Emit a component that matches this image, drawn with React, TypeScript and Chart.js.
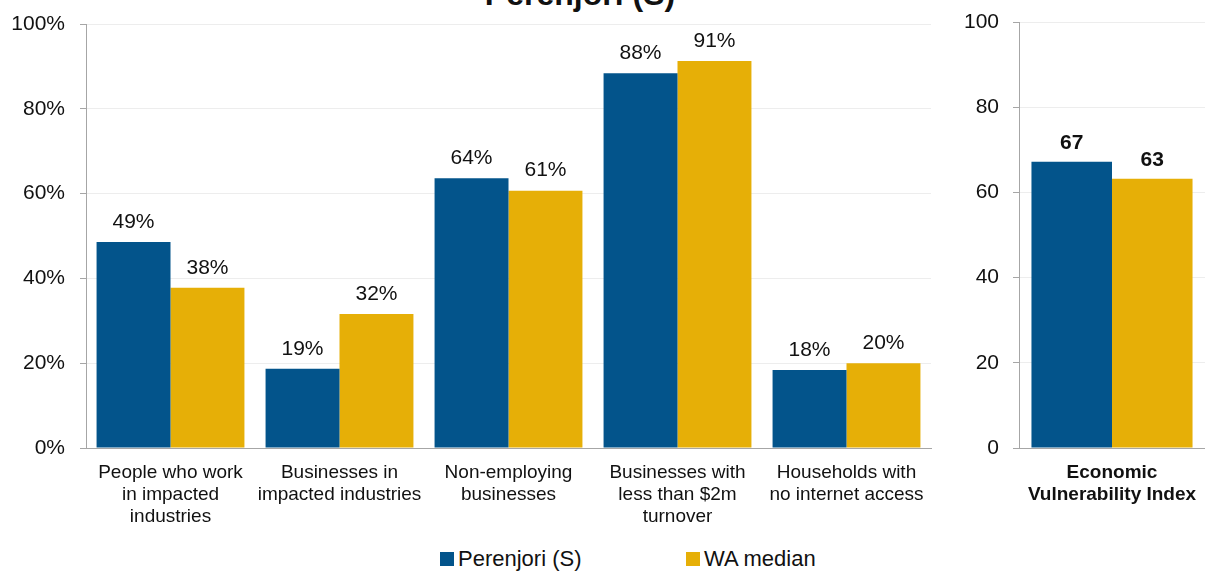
import React, { useEffect, useRef } from "react";
import { Chart, registerables } from "chart.js";

Chart.register(...registerables);

const TITLE = "Perenjori (S)";
const SERIES_NAMES = ["Perenjori (S)", "WA median"];
const COLORS = ["#03548B", "#E6AF07"];

const CATEGORIES: string[][] = [
  ["People who work", "in impacted", "industries"],
  ["Businesses in", "impacted industries"],
  ["Non-employing", "businesses"],
  ["Businesses with", "less than $2m", "turnover"],
  ["Households with", "no internet access"],
];
const LOCAL_VALUES = [48.6, 18.7, 63.6, 88.4, 18.4];
const WA_VALUES = [37.8, 31.6, 60.7, 91.3, 20.0];
const PCT_TICKS = [0, 20, 40, 60, 80, 100];

const INDEX_CATEGORIES: string[][] = [["Economic", "Vulnerability Index"]];
const INDEX_LOCAL = [67.2];
const INDEX_WA = [63.2];

const FONT = "'Liberation Sans', Arial, sans-serif";

const labelPlugin = (fmt: (v: number) => string, bold: boolean, offset: number) => ({
  id: "valueLabels",
  afterDatasetsDraw(chart: any) {
    const ctx = chart.ctx;
    ctx.save();
    ctx.font = `${bold ? "bold " : ""}21px ${FONT}`;
    ctx.fillStyle = "#111";
    ctx.textAlign = "center";
    ctx.textBaseline = "middle";
    chart.data.datasets.forEach((ds: any, i: number) => {
      const meta = chart.getDatasetMeta(i);
      meta.data.forEach((bar: any, j: number) => {
        ctx.fillText(fmt(ds.data[j]), bar.x, bar.y - offset);
      });
    });
    ctx.restore();
  },
});

function makeOptions(opts: {
  yWidth: number;
  padTop: number;
  padRight: number;
  fmt: (v: number) => string;
  xBold: boolean;
  yPad: number;
}) {
  return {
    responsive: false,
    animation: false,
    layout: { padding: { top: opts.padTop, right: opts.padRight, left: 0, bottom: 0 } },
    plugins: { legend: { display: false }, tooltip: { enabled: false }, title: { display: false } },
    scales: {
      x: {
        grid: {
          display: true,
          drawOnChartArea: false,
          drawTicks: true,
          tickLength: 14,
          color: "rgba(0,0,0,0)",
          tickColor: "rgba(0,0,0,0)",
        },
        border: { display: true, color: "#a6a6a6", width: 1 },
        ticks: {
          color: "#111",
          padding: 0,
          maxRotation: 0,
          autoSkip: false,
          font: { family: FONT, size: 19, weight: opts.xBold ? "bold" : "normal", lineHeight: 1.16 },
        },
        afterFit: (s: any) => {
          s.height = 92;
        },
      },
      y: {
        min: 0,
        max: 100,
        afterBuildTicks: (s: any) => {
          s.ticks = PCT_TICKS.map((v) => ({ value: v }));
        },
        grid: {
          color: (c: any) => (c.tick && c.tick.value === 0 ? "rgba(0,0,0,0)" : "#ededed"),
          tickColor: "#a6a6a6",
          tickLength: 6,
          drawTicks: true,
        },
        border: { display: true, color: "#a6a6a6", width: 1 },
        ticks: {
          color: "#111",
          padding: opts.yPad,
          font: { family: FONT, size: 21, lineHeight: 0.5 },
          callback: (v: any) => opts.fmt(Number(v)),
        },
        afterFit: (s: any) => {
          s.width = opts.yWidth;
        },
      },
    },
  } as any;
}

export default function App() {
  const leftRef = useRef<HTMLCanvasElement>(null);
  const rightRef = useRef<HTMLCanvasElement>(null);

  useEffect(() => {
    const pct = (v: number) => `${Math.round(v)}%`;
    const num = (v: number) => `${Math.round(v)}`;
    const barStyle = (i: number, catPct: number) => ({
      label: SERIES_NAMES[i],
      backgroundColor: COLORS[i],
      borderWidth: 0,
      categoryPercentage: catPct,
      barPercentage: 1,
    });
    const left = new Chart(leftRef.current!, {
      type: "bar",
      data: {
        labels: CATEGORIES as any,
        datasets: [
          { ...barStyle(0, 0.875), data: LOCAL_VALUES },
          { ...barStyle(1, 0.875), data: WA_VALUES },
        ],
      },
      options: makeOptions({ yWidth: 86, padTop: 24, padRight: 4, fmt: pct, xBold: false, yPad: 15 }),
      plugins: [labelPlugin(pct, false, 20)],
    });
    const right = new Chart(rightRef.current!, {
      type: "bar",
      data: {
        labels: INDEX_CATEGORIES as any,
        datasets: [
          { ...barStyle(0, 0.866), data: INDEX_LOCAL },
          { ...barStyle(1, 0.866), data: INDEX_WA },
        ],
      },
      options: makeOptions({ yWidth: 84, padTop: 22, padRight: 0, fmt: num, xBold: true, yPad: 14 }),
      plugins: [labelPlugin(num, true, 19)],
    });
    return () => {
      left.destroy();
      right.destroy();
    };
  }, []);

  const legendItem = (i: number, x: number) => (
    <div
      style={{
        position: "absolute",
        left: x,
        top: 547,
        height: 24,
        display: "flex",
        alignItems: "center",
        font: `22px ${FONT}`,
        color: "#111",
        whiteSpace: "nowrap",
      }}
    >
      <span style={{ display: "inline-block", width: 14, height: 14, background: COLORS[i], marginRight: 4 }} />
      {SERIES_NAMES[i]}
    </div>
  );

  return (
    <div
      style={{
        position: "absolute",
        left: 0,
        top: 0,
        width: 1205,
        height: 572,
        background: "#fff",
        overflow: "hidden",
      }}
    >
      <div
        style={{
          position: "absolute",
          left: 380,
          width: 400,
          top: -22,
          textAlign: "center",
          font: `bold 32px ${FONT}`,
          lineHeight: "32px",
          color: "#111",
        }}
      >
        {TITLE}
      </div>
      <canvas ref={leftRef} width={935} height={540} style={{ position: "absolute", left: 0, top: 0 }} />
      <canvas ref={rightRef} width={270} height={540} style={{ position: "absolute", left: 935, top: 0 }} />
      {legendItem(0, 440)}
      {legendItem(1, 686)}
    </div>
  );
}
